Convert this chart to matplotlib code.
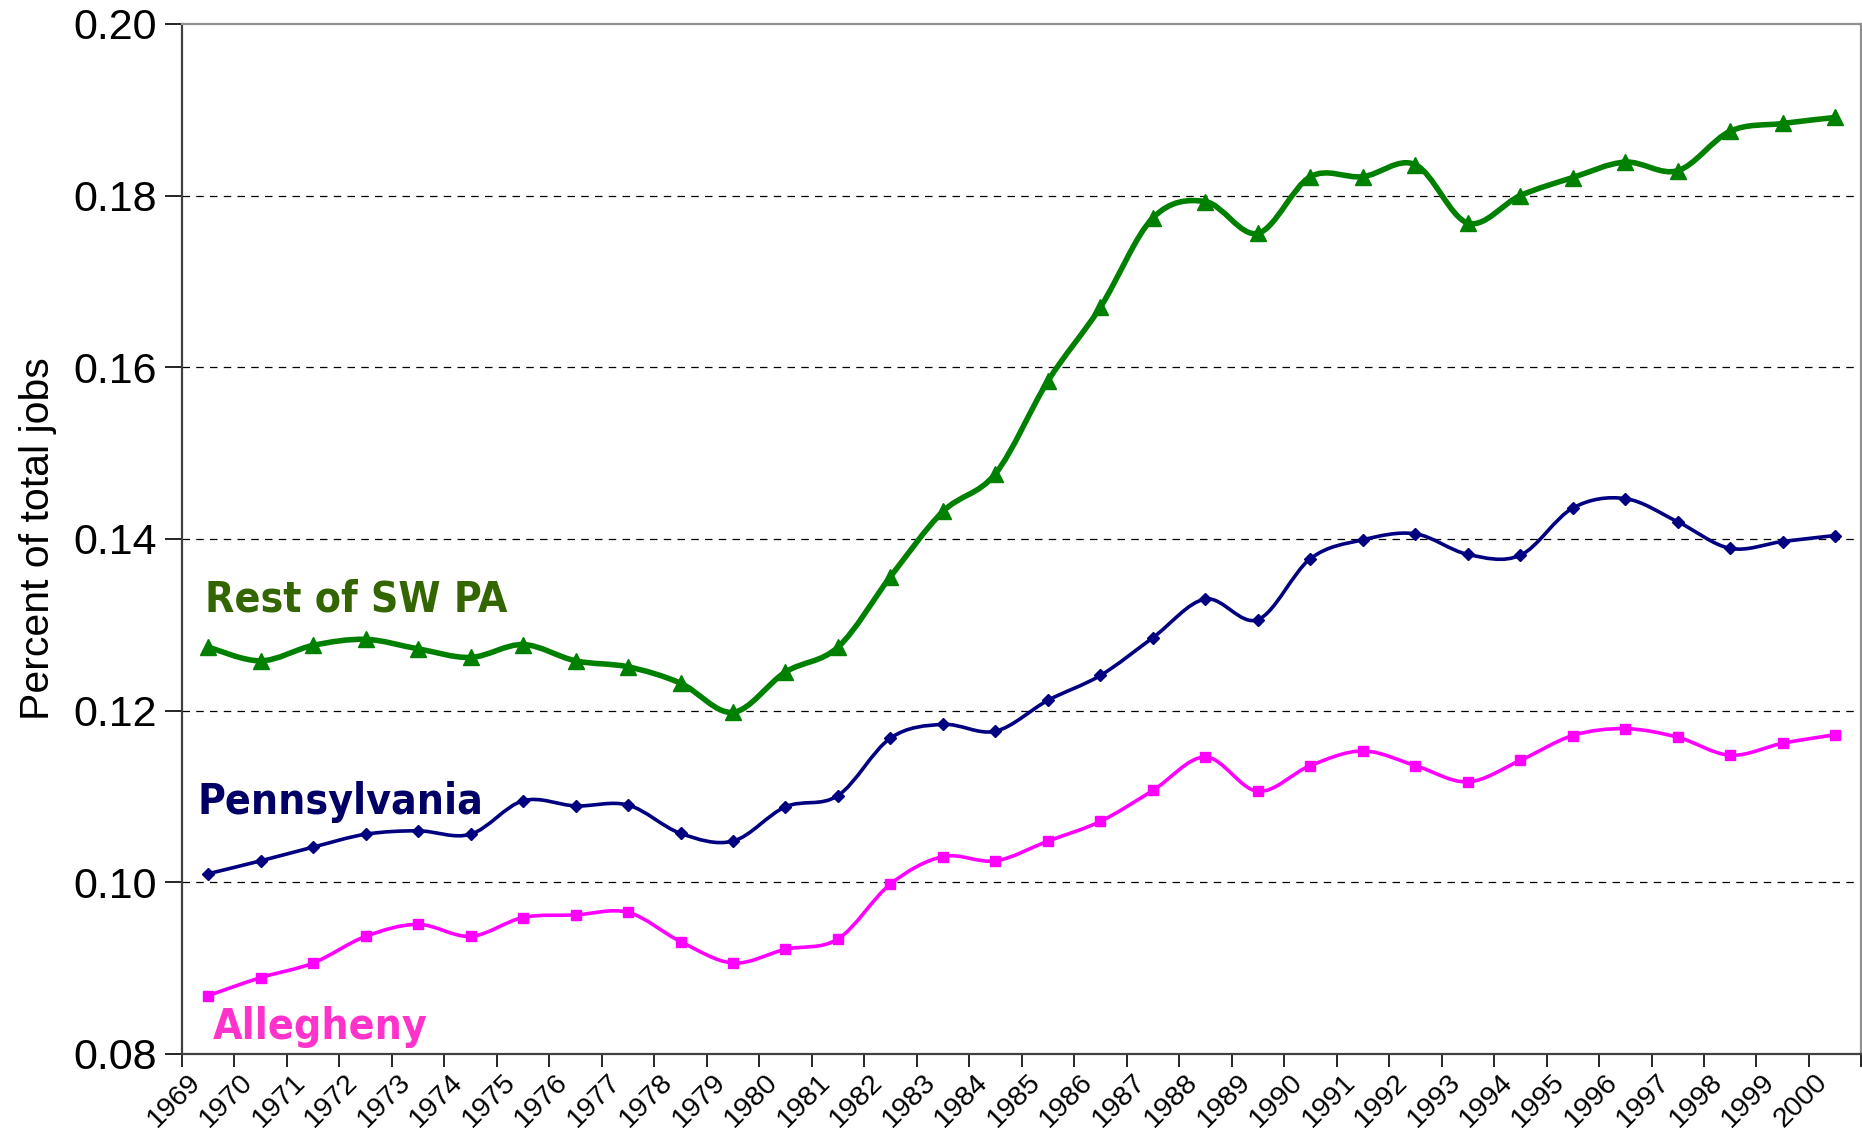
import numpy as np
import matplotlib
matplotlib.use("Agg")
import matplotlib.pyplot as plt
from matplotlib.path import Path
from matplotlib.patches import PathPatch
from matplotlib.transforms import blended_transform_factory

years = list(range(1969, 2001))

rest_sw_pa = [0.1274, 0.1258, 0.1276, 0.1283, 0.1272, 0.1262, 0.1277, 0.1258,
              0.1251, 0.1232, 0.1198, 0.1245, 0.1274, 0.1356, 0.1432, 0.1476,
              0.1584, 0.1670, 0.1774, 0.1793, 0.1756, 0.1822, 0.1822, 0.1836,
              0.1768, 0.1800, 0.1821, 0.1839, 0.1829, 0.1875, 0.1884, 0.1891]

pennsylvania = [0.1010, 0.1025, 0.1041, 0.1056, 0.1060, 0.1056, 0.1095, 0.1089,
                0.1090, 0.1057, 0.1048, 0.1088, 0.1101, 0.1168, 0.1184, 0.1176,
                0.1212, 0.1241, 0.1285, 0.1330, 0.1306, 0.1377, 0.1399, 0.1406,
                0.1382, 0.1381, 0.1436, 0.1447, 0.1420, 0.1389, 0.1397, 0.1404]

allegheny = [0.0868, 0.0889, 0.0906, 0.0937, 0.0951, 0.0937, 0.0959, 0.0962,
             0.0965, 0.0931, 0.0906, 0.0922, 0.0934, 0.0998, 0.1030, 0.1025,
             0.1048, 0.1071, 0.1107, 0.1146, 0.1106, 0.1136, 0.1153, 0.1136,
             0.1117, 0.1142, 0.1171, 0.1179, 0.1169, 0.1148, 0.1162, 0.1172]


def smooth_path(x, y):
    # excel style smoothed line: cubic bezier through every point
    P = np.column_stack([x, y])
    n = len(P)
    verts = [P[0]]
    codes = [Path.MOVETO]
    for i in range(n - 1):
        p0 = P[i - 1] if i > 0 else P[i]
        p3 = P[i + 2] if i + 2 < n else P[i + 1]
        c1 = P[i] + (P[i + 1] - p0) / 6.0
        c2 = P[i + 1] - (p3 - P[i]) / 6.0
        verts += [c1, c2, P[i + 1]]
        codes += [Path.CURVE4] * 3
    return Path(verts, codes)


fig = plt.figure(figsize=(18.62, 11.37), dpi=100)
ax = fig.add_axes([0.0977, 0.073, 0.902, 0.906])

x = np.arange(len(years))

series = [
    (rest_sw_pa, "#008000", 4.0, "^", 12),
    (pennsylvania, "#000080", 2.6, "D", 6),
    (allegheny, "#FF00FF", 2.6, "s", 7),
]
for vals, col, lw, mk, ms in series:
    ax.add_patch(PathPatch(smooth_path(x, vals), facecolor="none", edgecolor=col,
                           lw=lw, zorder=3, capstyle="round", joinstyle="round"))
    ax.plot(x, vals, linestyle="none", marker=mk, color=col, markersize=ms, zorder=4,
            clip_on=False)

ax.set_xlim(-0.5, len(years) - 0.5)
ax.set_ylim(0.08, 0.20)
ax.set_yticks(np.arange(0.08, 0.2001, 0.02))
ax.set_yticklabels(["%.2f" % v for v in np.arange(0.08, 0.2001, 0.02)],
                   fontsize=31, family="Liberation Sans")
for v in np.arange(0.10, 0.1801, 0.02):
    ax.axhline(v, color="black", lw=0.9, ls=(0, (6, 5)), zorder=1)

ax.set_xticks(np.arange(-0.5, len(years), 1.0))
ax.set_xticklabels([])
ax.tick_params(axis="y", length=12, width=1.2, pad=6)
ax.tick_params(axis="x", length=9, width=1.2)

trans = blended_transform_factory(ax.transData, ax.transAxes)
for i, yr in enumerate(years):
    ax.text(i - 0.22, -0.024, str(yr), transform=trans, rotation=45,
            rotation_mode="anchor", ha="right", va="center", fontsize=20.5,
            family="Liberation Sans")

ax.set_ylabel("Percent of total jobs", fontsize=29.5, family="Liberation Sans", labelpad=12)

for side in ["left", "bottom"]:
    ax.spines[side].set_color("#404040")
    ax.spines[side].set_linewidth(1.6)
for side in ["top", "right"]:
    ax.spines[side].set_color("#909090")
    ax.spines[side].set_linewidth(1.6)

lab = dict(fontsize=30.6, fontweight="bold", family="DejaVu Sans",
           fontstretch="condensed", va="baseline")
ax.text(-0.06, 0.1316, "Rest of SW PA", color="#336600", **lab)
ax.text(-0.21, 0.1079, "Pennsylvania", color="#000066", **lab)
ax.text(0.09, 0.0817, "Allegheny", color="#FF33CC", **lab)

fig.savefig("out.png", dpi=100)
